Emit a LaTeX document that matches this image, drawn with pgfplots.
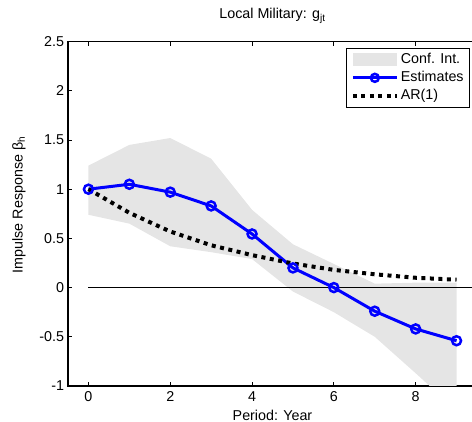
\documentclass[border=0pt]{standalone}
\usepackage{fontspec}
\setmainfont{Liberation Sans}
\usepackage{pgfplots}
\pgfplotsset{compat=1.18}
\definecolor{ci}{gray}{0.9}
\newcommand{\fs}{\fontsize{14.3}{17}\selectfont}
\begin{document}
\begin{tikzpicture}
\begin{axis}[
 scale only axis, width=409pt, height=344.4pt,
 xmin=-0.5, xmax=9.5, ymin=-1, ymax=2.5,
 xtick={0,2,4,6,8}, ytick={-1,-0.5,0,0.5,1,1.5,2,2.5},
 tick align=inside, major tick length=4pt,
 tick style={black, line width=0.8pt},
 axis line style={line width=1.2pt},
 font=\fs,
 ticklabel style={font=\fs},
 xticklabel style={yshift=-2pt},
 yticklabel style={xshift=-0.5pt},
 /pgf/number format/assume math mode=true,
 title={Local Military: g\textsubscript{jt}},
 title style={at={(axis description cs:0.5,1.0485)}, anchor=base, font=\fs},
 xlabel={Period: Year},
 xlabel style={at={(axis description cs:0.5,-0.1002)}, anchor=base, font=\fs},
 ylabel={Impulse Response β\textsubscript{h}},
 ylabel style={at={(axis description cs:-0.1112,0.526)}, anchor=base, font=\fs},
 legend style={at={(axis description cs:0.983,0.982)}, anchor=north east, draw=black, line width=0.8pt,
   font=\fs, row sep=0pt, inner xsep=4pt, inner ysep=2.2pt,
   nodes={inner xsep=2pt, inner ysep=2.4pt, text height=10.5pt, text depth=3pt, font=\fs}},
 legend cell align=left,
]
\addplot[fill=ci, draw=none, legend image code/.code={\fill[ci] (0pt,-6.5pt) rectangle (44pt,6.5pt);}]
 coordinates {(0,1.24) (1,1.45) (2,1.52) (3,1.31) (4,0.79) (5,0.44) (6,0.24) (7,0.04) (8,0.05) (9,0.05)
   (9,-1.25) (8,-0.87) (7,-0.50) (6,-0.25) (5,-0.04) (4,0.29) (3,0.36) (2,0.42) (1,0.65) (0,0.74)} -- cycle;
\addlegendentry{Conf. Int.}
\addplot[black, line width=0.8pt, forget plot] coordinates {(0,0) (9.5,0)};
\addplot[blue, line width=3pt, mark=o, mark size=4.5pt, mark options={line width=2.5pt, fill=none},
 legend image code/.code={\draw[blue, line width=3pt] (0pt,0pt) -- (44pt,0pt); \draw[blue, line width=2.5pt] (22pt,0pt) circle (4pt);}]
 coordinates {(0,1.0) (1,1.05) (2,0.97) (3,0.83) (4,0.545) (5,0.20) (6,0.0) (7,-0.24) (8,-0.42) (9,-0.54)};
\addlegendentry{Estimates}
\addplot[black, line width=4pt, dash pattern=on 4pt off 4.5pt,
 legend image code/.code={\draw[black, line width=4pt, dash pattern=on 4pt off 4.5pt] (0pt,0pt) -- (44pt,0pt);}]
 coordinates {(0,1.0) (1,0.76) (2,0.57) (3,0.43) (4,0.33) (5,0.245) (6,0.18) (7,0.135) (8,0.10) (9,0.08)};
\addlegendentry{AR(1)}
\end{axis}
\pgfresetboundingbox
\path[use as bounding box] (-68pt,-36pt) rectangle (404pt,386pt);
\end{tikzpicture}
\end{document}
